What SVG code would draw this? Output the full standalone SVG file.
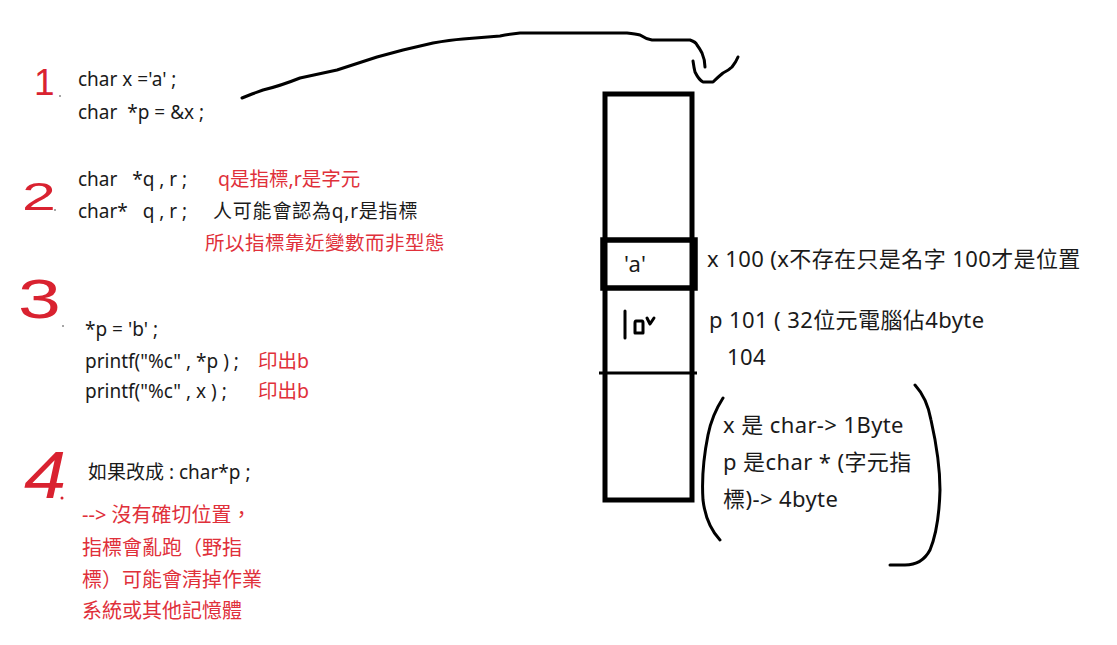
<svg xmlns="http://www.w3.org/2000/svg" width="1117" height="645" viewBox="0 0 1117 645">
<style>
.t{font-family:"Noto Sans","Noto Sans CJK TC",sans-serif;font-size:19px;fill:#1a1a1a}
.r{font-family:"Noto Sans","Noto Sans CJK TC",sans-serif;font-size:19.5px;fill:#e0303a}
.rb{font-family:"Noto Sans","Noto Sans CJK TC",sans-serif;font-size:20px;fill:#e0303a}
.big{font-family:"Noto Sans","Noto Sans CJK TC",sans-serif;font-size:22px;letter-spacing:0.4px;fill:#1a1a1a}
.num{font-family:"Liberation Sans",sans-serif;fill:#d92230}
.ink{fill:none;stroke:#000;stroke-width:3;stroke-linecap:round;stroke-linejoin:round}
.box{fill:none;stroke:#000;stroke-width:5}
</style>
<rect width="1117" height="645" fill="#fff"/>
<g id="step1">
<text class="num" x="34" y="95" font-size="37">1</text>
<circle cx="60" cy="96" r="1" fill="#888"/>
<text class="t" x="78" y="86">char x ='a' ;</text>
<text class="t" x="78" y="119" xml:space="preserve">char  *p = &amp;x ;</text>
</g>
<g id="step2">
<text class="num" x="0" y="0" font-size="38" transform="translate(22,210) scale(1.6,1)">2</text>
<circle cx="55" cy="210" r="1" fill="#888"/>
<text class="t" x="78" y="186" xml:space="preserve">char   *q , r ;</text>
<text class="r" x="218" y="186">q是指標,r是字元</text>
<text class="t" x="78" y="218" xml:space="preserve">char*   q , r ;</text>
<text class="t" x="213" y="218" letter-spacing="0.8">人可能會認為q,r是指標</text>
<text class="r" x="205" y="250" letter-spacing="0.5">所以指標靠近變數而非型態</text>
</g>
<g id="step3">
<text class="num" x="0" y="0" font-size="55" transform="translate(18,318) scale(1.4,1)">3</text>
<circle cx="63" cy="326" r="1" fill="#888"/>
<text class="t" x="85" y="336">*p = 'b' ;</text>
<text class="t" x="85" y="368">printf("%c" , *p ) ;</text>
<text class="r" x="258" y="368">印出b</text>
<text class="t" x="85" y="398">printf("%c" , x ) ;</text>
<text class="r" x="258" y="398">印出b</text>
</g>
<g id="step4">
<text class="num" x="0" y="0" font-size="66" font-style="italic" transform="translate(24,498) scale(1.15,1)">4</text>
<circle cx="62" cy="498" r="1.5" fill="#d92230"/>
<text class="t" x="88" y="479">如果改成 : char*p ;</text>
<text class="rb" x="82" y="522">--&gt; 沒有確切位置，</text>
<text class="rb" x="82" y="555">指標會亂跑（野指</text>
<text class="rb" x="82" y="587">標）可能會清掉作業</text>
<text class="rb" x="82" y="618">系統或其他記憶體</text>
</g>
<g id="memory">
<rect class="box" x="605" y="94" width="87" height="406"/>
<rect x="603" y="240" width="92" height="48" fill="none" stroke="#000" stroke-width="5.5"/>
<line x1="599" y1="373" x2="697" y2="373" stroke="#000" stroke-width="3"/>
<text class="big" x="624" y="272">'a'</text>
<path class="ink" d="M625,311 L625,338 M636,321 L642,321 Q643,321 643,323 L643,333 L635,333 L635,323 Q635,321 636,321 M647,318 L650,324 L654,318" stroke-width="2.5"/>
</g>
<g id="labels">
<text class="big" x="707" y="267">x 100 (x不存在只是名字 100才是位置</text>
<text class="big" x="709" y="328">p 101 ( 32位元電腦佔4byte</text>
<text class="big" x="727" y="365">104</text>
<text class="big" x="723" y="433">x 是 char-&gt; 1Byte</text>
<text class="big" x="723" y="470">p 是char * (字元指</text>
<text class="big" x="723" y="507">標)-&gt; 4byte</text>
<path class="ink" d="M723,398 Q712,415 708,435 Q701,470 703,500 Q706,525 720,540"/>
<path class="ink" d="M915,385 Q927,398 931,420 Q940,460 940,490 Q939,528 930,550 Q922,565 905,565 L890,565"/>
</g>
<g id="connectors">
<path class="ink" d="M242,98 L252,94 L263,90 Q280,86 300,78 L337,70 L377,57 L403,50 L433,43 Q450,40 463,39 L500,36 Q510,34 520,33 L563,33 L627,33 Q636,34 640,35 Q646,39 652,40 L690,40 Q696,42 697,45 Q700,49 702,53 Q705,60 705,67"/>
<path class="ink" d="M693,61 Q694,68 695,72 Q699,80 703,82 L713,82 Q718,77 723,73 Q729,70 732,67 Q736,62 738,57"/>
</g>
</svg>
